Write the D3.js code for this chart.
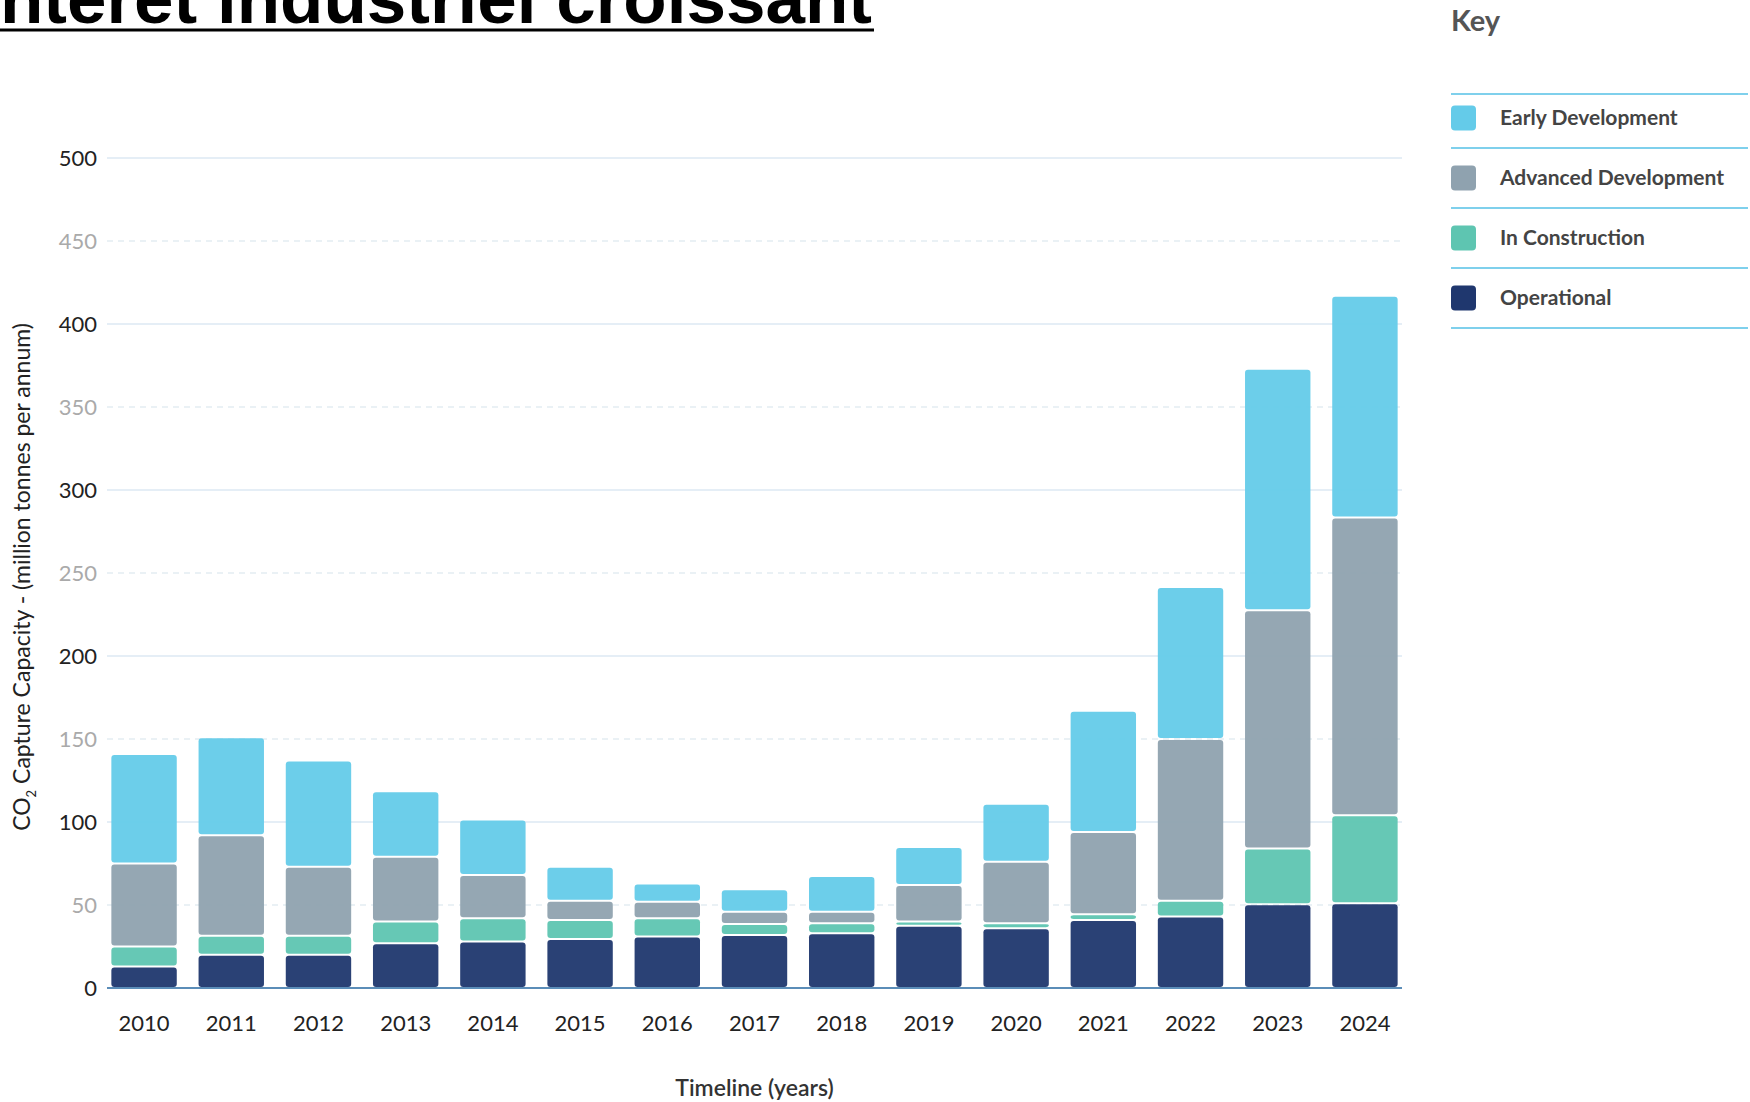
<!DOCTYPE html>
<html>
<head>
<meta charset="utf-8">
<script src="https://cdn.jsdelivr.net/npm/d3@7"></script>
<style>
  body { margin: 0; background: #fff; }
  svg { display: block; }
</style>
</head>
<body>
<div id="vis"></div>
<script>
var w = 1750,
    h = 1102;

// data (million tonnes per annum)
var years = ["2010","2011","2012","2013","2014","2015","2016","2017","2018","2019","2020","2021","2022","2023","2024"];
var operational = [13, 20, 20, 27, 28, 29.5, 31, 32, 33, 37.5, 36, 41, 43, 50.5, 51];
var inConstruction = [12, 11.5, 11.5, 13, 14, 11.5, 11, 6.5, 6, 2.5, 3, 3.5, 9.5, 33.5, 53];
var advancedDev = [50, 60.5, 41.5, 39, 26, 11.5, 10, 7.5, 7, 22, 37, 49.5, 97.5, 143.5, 179.5];
var earlyDev = [66, 59, 64, 39.5, 33.5, 20.5, 11, 13.5, 21.5, 23, 35, 73, 91.5, 145.5, 133.5];
var yTicks = [0, 50, 100, 150, 200, 250, 300, 350, 400, 450, 500];

var seriesKeys = ["op", "con", "adv", "early"];
var seriesNames = {early: "Early Development", adv: "Advanced Development", con: "In Construction", op: "Operational"};
var colors = {early: "#64cbe9", adv: "#8fa2af", con: "#5ec5b1", op: "#1f376e"};
var legendOrder = ["early", "adv", "con", "op"];

var rows = years.map(function(y, i){
    return {year: y, op: operational[i], con: inConstruction[i], adv: advancedDev[i], early: earlyDev[i]};
});

var plotLeft = 107, plotRight = 1402, plotTop = 158, plotBottom = 988;
var font = "Lato, 'Noto Sans', sans-serif";

var svg = d3.select("#vis").append("svg")
    .attr("width", w)
    .attr("height", h);

var x = d3.scaleBand()
    .domain(years)
    .range([plotLeft, plotRight])
    .paddingInner(0.25)
    .paddingOuter(0.05);

var y = d3.scaleLinear()
    .domain([0, 500])
    .range([plotBottom, plotTop]);

// title, cut at the top edge like in the picture
var title = svg.append("text")
    .attr("y", 23)
    .style("font-family", "'Liberation Sans Narrow', 'Arial Narrow', 'Liberation Sans', sans-serif")
    .style("font-weight", "bold")
    .style("font-size", "100px")
    .style("fill", "#000")
    .text("Un intérêt industriel croissant");
var prefix = title.node().getSubStringLength(0, 4);
var full = title.node().getComputedTextLength();
var scaleT = 872 / (full - prefix);
title.style("font-size", (100*scaleT) + "px")
     .attr("x", -prefix*scaleT);
svg.append("line")
    .attr("x1", 0).attr("x2", 874)
    .attr("y1", 30).attr("y2", 30)
    .style("stroke", "#000")
    .style("stroke-width", 3);

// grid
svg.append("g").selectAll("line.grid")
    .data(yTicks.filter(function(d){ return d > 0; }))
    .enter().append("line")
    .attr("class", "grid")
    .attr("x1", plotLeft).attr("x2", plotRight)
    .attr("y1", function(d){ return y(d); })
    .attr("y2", function(d){ return y(d); })
    .style("stroke", function(d){ return d % 100 == 0 ? "#dce9f3" : "#e4edf2"; })
    .style("stroke-width", 1.5)
    .style("stroke-dasharray", function(d){ return d % 100 == 0 ? null : "6,5"; });

// y axis labels
var yAxis = svg.append("g")
    .attr("transform", "translate(" + plotLeft + ",0)")
    .call(d3.axisLeft(y).tickValues(yTicks).tickSize(0).tickPadding(10));
yAxis.select(".domain").remove();
yAxis.selectAll("text")
    .style("font-family", font)
    .style("font-size", "22px")
    .style("fill", function(d){ return d % 100 == 0 ? "#222" : "#aaa"; });

// bars
var stacked = d3.stack().keys(seriesKeys)(rows);

svg.append("g").selectAll("g.layer")
    .data(stacked)
    .enter().append("g")
    .attr("class", "layer")
    .style("fill", function(d){ return colors[d.key]; })
    .style("fill-opacity", 0.95)
  .selectAll("rect")
    .data(function(d){ return d; })
    .enter().append("rect")
    .attr("x", function(d){ return x(d.data.year); })
    .attr("width", x.bandwidth())
    .attr("y", function(d){ return y(d[1]) + 1; })
    .attr("height", function(d){ return Math.max(1, y(d[0]) - y(d[1]) - 2); })
    .attr("rx", 3);

// x axis
var xAxis = svg.append("g")
    .attr("transform", "translate(0," + plotBottom + ")")
    .call(d3.axisBottom(x).tickSize(0).tickPadding(27));
xAxis.select(".domain").remove();
xAxis.selectAll("text")
    .style("font-family", font)
    .style("font-size", "22px")
    .style("fill", "#222");

svg.append("line")
    .attr("x1", plotLeft).attr("x2", plotRight)
    .attr("y1", plotBottom).attr("y2", plotBottom)
    .style("stroke", "#5b8db8")
    .style("stroke-width", 2);

// axis titles
svg.append("text")
    .attr("x", (plotLeft + plotRight)/2)
    .attr("y", 1096)
    .attr("text-anchor", "middle")
    .style("font-family", font)
    .style("font-weight", 600)
    .style("font-size", "23px")
    .style("fill", "#333")
    .text("Timeline (years)");

var yt = svg.append("text")
    .attr("transform", "translate(30,577) rotate(-90)")
    .attr("text-anchor", "middle")
    .style("font-family", font)
    .style("font-size", "23px")
    .style("fill", "#222");
yt.append("tspan").text("CO");
yt.append("tspan").attr("dy", 6).style("font-size", "13px").text("2");
yt.append("tspan").attr("dy", -6).text(" Capture Capacity - (million tonnes per annum)");

// legend
var lx = 1451, lx2 = 1748;
svg.append("text")
    .attr("x", lx)
    .attr("y", 31)
    .style("font-family", font)
    .style("font-weight", "bold")
    .style("font-size", "29px")
    .style("fill", "#555")
    .text("Key");

svg.append("line")
    .attr("x1", lx).attr("x2", lx2)
    .attr("y1", 94).attr("y2", 94)
    .style("stroke", "#7fd0ec").style("stroke-width", 2);

var leg = svg.append("g").selectAll("g.leg")
    .data(legendOrder)
    .enter().append("g")
    .attr("class", "leg")
    .attr("transform", function(d, i){ return "translate(" + lx + "," + (118 + i*60) + ")"; });
leg.append("rect")
    .attr("x", 0).attr("y", -12.5)
    .attr("width", 25).attr("height", 25)
    .attr("rx", 4)
    .style("fill", function(d){ return colors[d]; });
leg.append("text")
    .attr("x", 49)
    .attr("y", 7)
    .style("font-family", font)
    .style("font-weight", "bold")
    .style("font-size", "21px")
    .style("fill", "#444")
    .text(function(d){ return seriesNames[d]; });
leg.append("line")
    .attr("x1", 0).attr("x2", lx2 - lx)
    .attr("y1", 30).attr("y2", 30)
    .style("stroke", "#7fd0ec").style("stroke-width", 2);
</script>
</body>
</html>
